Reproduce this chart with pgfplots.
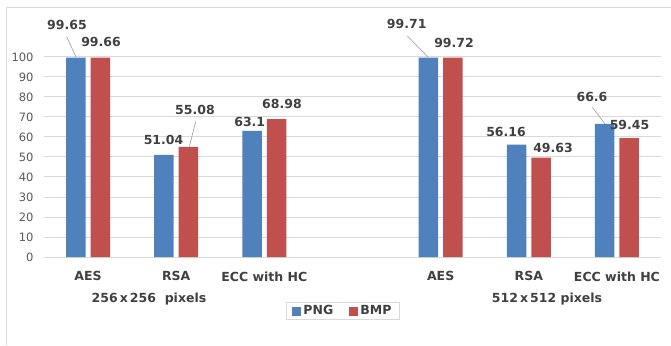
\documentclass[border=0pt]{standalone}
\usepackage{fontspec}
\setmainfont{DejaVu Sans}
\usepackage{pgfplots}
\pgfplotsset{compat=1.18}
\definecolor{pngblue}{HTML}{4F81BD}
\definecolor{bmpred}{HTML}{C0504D}
\definecolor{gridgray}{HTML}{D9D9D9}
\definecolor{txtgray}{HTML}{404040}
\definecolor{tickgray}{HTML}{595959}
\definecolor{leadgray}{HTML}{A6A6A6}
\begin{document}
\begin{tikzpicture}
\useasboundingbox (-44pt,-88pt) rectangle (627pt,257pt);
\draw[gridgray,line width=0.8pt] (-38pt,-88pt) -- (-38pt,250pt) -- (627pt,250pt);
\begin{axis}[
  at={(0,0)}, anchor=south west,
  scale only axis, width=617pt, height=200pt,
  xmin=-0.5, xmax=6.5, ymin=0, ymax=100,
  clip=false,
  ybar=5pt, bar width=19.5pt,
  axis line style={draw=none},
  major tick length=0pt,
  ytick={0,10,...,100},
  ymajorgrids, grid style={gridgray,line width=1pt},
  xtick={0,1,2,4,5,6},
  xticklabels={AES,RSA,ECC with HC,AES,RSA,ECC with HC},
  xticklabel style={font=\fontsize{12.5}{14}\selectfont\bfseries, text=txtgray, yshift=-11pt},
  yticklabel style={font=\fontsize{11.5}{13}\selectfont, text=tickgray, xshift=-7pt},
  /pgf/number format/assume math mode=true,
  legend style={at={(axis cs:2.892,-27)}, anchor=center, legend columns=2,
    draw=gridgray, line width=0.8pt, font=\fontsize{12.5}{14}\selectfont\bfseries, text=txtgray,
    /tikz/every even column/.append style={column sep=14pt}, inner sep=1.5pt, inner xsep=6pt},
  legend image code/.code={\fill[#1] (0pt,-4.5pt) rectangle (9pt,4.5pt);},
]
\addplot[fill=pngblue, draw=none] coordinates {(0,99.65) (1,51.04) (2,63.1) (4,99.71) (5,56.16) (6,66.6)};
\addplot[fill=bmpred, draw=none] coordinates {(0,99.66) (1,55.08) (2,68.98) (4,99.72) (5,49.63) (6,59.45)};
\legend{PNG,BMP}
% leader lines
\draw[leadgray, line width=0.7pt] (axis cs:-0.243,110.2) -- (axis cs:-0.137,100);
\draw[leadgray, line width=0.7pt] (axis cs:1.221,67.7) -- (axis cs:1.149,55.2);
\draw[leadgray, line width=0.7pt] (axis cs:3.622,110.5) -- (axis cs:3.861,99.8);
\draw[leadgray, line width=0.7pt] (axis cs:5.721,74.8) -- (axis cs:5.865,66.5);
% data labels
\begin{scope}[every node/.style={font=\fontsize{12.5}{14}\selectfont\bfseries, text=txtgray, inner sep=0pt}]
\node at (axis cs:-0.239,116) {99.65};
\node at (axis cs:0.147,107.5) {99.66};
\node at (axis cs:0.856,58.5) {51.04};
\node at (axis cs:1.213,73.5) {55.08};
\node at (axis cs:1.834,67.5) {63.1};
\node at (axis cs:2.200,76.5) {68.98};
\node at (axis cs:3.615,116.5) {99.71};
\node at (axis cs:4.152,107) {99.72};
\node at (axis cs:4.742,62.5) {56.16};
\node at (axis cs:5.275,54.5) {49.63};
\node at (axis cs:5.717,80) {66.6};
\node at (axis cs:6.143,66) {59.45};
\node at (axis cs:0.691,-21) {256\,x\,256~~pixels};
\node at (axis cs:5.207,-21) {512\,x\,512 pixels};
\end{scope}
\end{axis}
\end{tikzpicture}
\end{document}
